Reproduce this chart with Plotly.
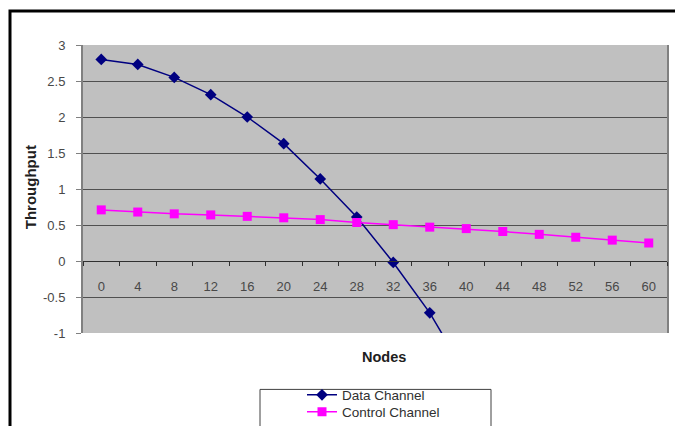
import plotly.graph_objects as go

# Node counts on the category axis
nodes = [0, 4, 8, 12, 16, 20, 24, 28, 32, 36, 40, 44, 48, 52, 56, 60]

# Throughput per series (data channel falls below the axis floor after 36)
data_channel = [2.80, 2.73, 2.55, 2.31, 2.00, 1.63, 1.14, 0.61, -0.02, -0.72, -1.58]
control_channel = [0.71, 0.68, 0.655, 0.64, 0.62, 0.60, 0.575, 0.535, 0.505, 0.47,
                   0.45, 0.41, 0.37, 0.33, 0.29, 0.25]

y_ticks = [3, 2.5, 2, 1.5, 1, 0.5, 0, -0.5, -1]

# Plot-area geometry in pixels (675 x 426 canvas)
W, H = 675, 426
L, R, T, B = 83, 667, 44.5, 333


def px(x):
    return (x - L) / (R - L)


def py(y):
    return (B - y) / (B - T)


def cx(x):
    return x / W


def cy(y):
    return 1 - y / H


labels = [str(n) for n in nodes]
font = "Liberation Sans, Arial, sans-serif"
legend_font = dict(family=font, size=13.5, color="#303030")

fig = go.Figure()
fig.add_trace(go.Scatter(
    x=labels[:len(data_channel)], y=data_channel, name="Data Channel",
    mode="lines+markers",
    line=dict(color="#000080", width=1.5),
    marker=dict(symbol="diamond", size=9, color="#000080"),
    legend="legend", showlegend=True,
))
fig.add_trace(go.Scatter(
    x=labels, y=control_channel, name="Control Channel",
    mode="lines+markers",
    line=dict(color="#FF00FF", width=1.5),
    marker=dict(symbol="square", size=9, color="#FF00FF"),
    legend="legend2", showlegend=True,
))

fig.update_layout(
    width=W, height=H,
    showlegend=True,
    margin=dict(l=L, r=W - R, t=T, b=H - B, pad=0, autoexpand=False),
    paper_bgcolor="white",
    plot_bgcolor="#C0C0C0",
    font=dict(family=font, size=13, color="#484848"),
    xaxis=dict(
        type="category", range=[-0.5, len(nodes) - 0.5],
        anchor="free", position=0.25,
        showline=True, linecolor="#303030", linewidth=1,
        ticks="outside", tickson="boundaries", ticklen=4, tickcolor="#303030",
        ticklabelstandoff=13,
        showgrid=False, zeroline=False,
        tickfont=dict(size=13, color="#484848"),
    ),
    yaxis=dict(
        range=[-1, 3], tickvals=y_ticks, ticktext=[f"{v:g}" for v in y_ticks],
        showgrid=True, gridcolor="#505050", gridwidth=1,
        zeroline=True, zerolinecolor="#303030", zerolinewidth=1,
        showline=True, linecolor="#808080", linewidth=2, mirror=True,
        ticks="outside", ticklen=5, tickcolor="#808080",
        ticklabelstandoff=8,
        tickfont=dict(size=13, color="#484848"),
    ),
    legend=dict(
        visible=True,
        xref="container", yref="container",
        x=cx(302), y=cy(395), xanchor="left", yanchor="middle",
        bgcolor="rgba(0,0,0,0)", borderwidth=0, font=legend_font,
    ),
    legend2=dict(
        visible=True,
        xref="container", yref="container",
        x=cx(302), y=cy(412), xanchor="left", yanchor="middle",
        bgcolor="rgba(0,0,0,0)", borderwidth=0, font=legend_font,
    ),
    annotations=[
        dict(text="<b>Throughput</b>", x=px(30), y=py(187), xref="paper", yref="paper",
             xanchor="center", yanchor="middle",
             textangle=-90, showarrow=False, font=dict(size=15, color="#202020")),
        dict(text="<b>Nodes</b>", x=px(384), y=py(357), xref="paper", yref="paper",
             xanchor="center", yanchor="middle",
             showarrow=False, font=dict(size=14.5, color="#202020")),
    ],
    shapes=[
        # outer frame (top and left edges)
        dict(type="path", xref="paper", yref="paper",
             path=f"M {px(10)} {py(440)} L {px(10)} {py(10.5)} L {px(690)} {py(10.5)}",
             line=dict(color="black", width=3)),
        # legend box
        dict(type="rect", xref="paper", yref="paper",
             x0=px(260), x1=px(491), y0=py(389.5), y1=py(440),
             line=dict(color="#404040", width=1), fillcolor="white", layer="below"),
    ],
)

fig.write_html("out.html")
